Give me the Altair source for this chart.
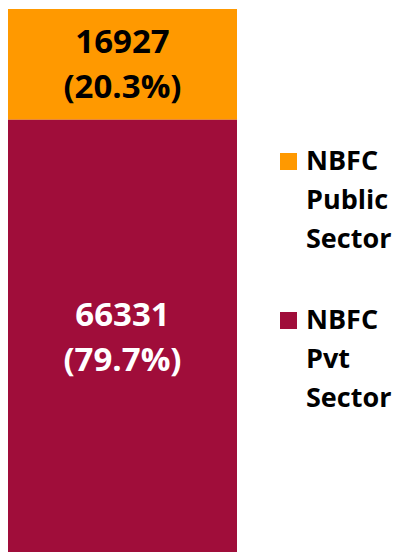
import altair as alt
import pandas as pd

categories = ["NBFC Public Sector", "NBFC Pvt Sector"]
values = [16927, 66331]
percents = ["20.3%", "79.7%"]
stack_order = [1, 0]
colors = ["#FF9900", "#A00D3A"]

df = pd.DataFrame({
    "category": categories,
    "value": values,
    "pct": percents,
    "order": stack_order,
    "x": ["NBFC"] * len(categories),
})

total = sum(values)

base = alt.Chart(df).transform_stack(
    stack="value", groupby=["x"], as_=["v0", "v1"], sort=[alt.SortField("order")]
).transform_calculate(
    mid="(datum.v0 + datum.v1) / 2",
    label="datum.value + '\\n(' + datum.pct + ')'",
)

yscale = alt.Scale(domain=[0, total], nice=False, zero=True)

bars = base.mark_bar(width={"band": 1}).encode(
    x=alt.X("x:N", axis=None, scale=alt.Scale(paddingInner=0, paddingOuter=0)),
    y=alt.Y("v0:Q", axis=None, scale=yscale),
    y2="v1:Q",
    color=alt.Color(
        "category:N",
        scale=alt.Scale(domain=categories, range=colors),
        legend=alt.Legend(
            title=None,
            orient="none",
            legendX=267,
            legendY=139,
            padding=0,
            symbolType="square",
            symbolSize=289,
            symbolStrokeWidth=0,
            symbolOpacity=1,
            labelFont="Open Sans",
            labelFontWeight="bold",
            labelFontSize=27,
            labelColor="#000000",
            labelBaseline="middle",
            labelOffset=4,
            labelLimit=200,
            rowPadding=53,
            labelExpr="split(datum.label, ' ')",
        ),
    ),
)

labels = base.mark_text(
    font="Open Sans",
    fontWeight="bold",
    fontSize=33,
    lineBreak="\n",
    lineHeight=45,
    baseline="middle",
    align="center",
    dy=-21,
).encode(
    x=alt.X("x:N", axis=None),
    y=alt.Y("mid:Q", axis=None, scale=yscale),
    text="label:N",
    color=alt.condition(
        "datum.category == 'NBFC Public Sector'",
        alt.value("#000000"),
        alt.value("#FFFFFF"),
    ),
)

chart = alt.layer(bars, labels).properties(
    width=229,
    height=545,
    padding={"left": 0, "top": 1, "right": 155, "bottom": 0},
    autosize=alt.AutoSizeParams(type="none"),
).configure(
    background="#FFFFFF",
    view=alt.ViewConfig(stroke=None),
    style={"guide-label": {"lineHeight": 39}},
)

chart.save("out.html", embed_options={"renderer": "svg", "actions": False})
